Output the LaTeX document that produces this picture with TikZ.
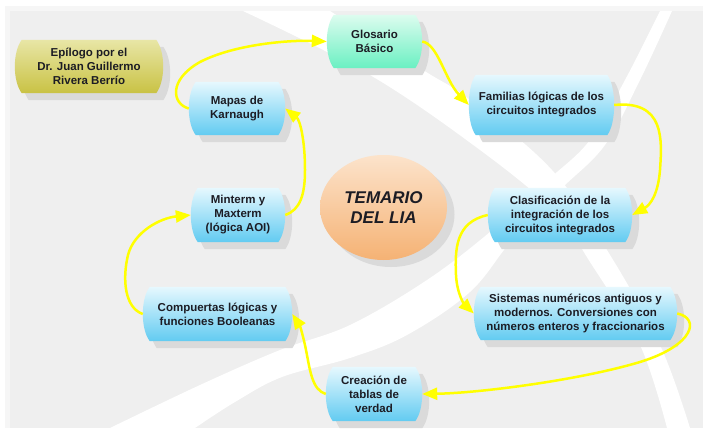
\documentclass[tikz,border=0pt]{standalone}
\usepackage{fontspec}
\setmainfont{Liberation Sans}
\usetikzlibrary{arrows.meta,calc,backgrounds,shapes.geometric}
\definecolor{panel}{HTML}{EFEFEF}
\definecolor{panelsh}{HTML}{F6F6F6}
\definecolor{shad}{HTML}{DADADA}
\definecolor{bluetop}{HTML}{E6F8FE}
\definecolor{bluebot}{HTML}{62CBF1}
\definecolor{greentop}{HTML}{DDFCEF}
\definecolor{greenbot}{HTML}{6AF0C2}
\definecolor{olivetop}{HTML}{E8E6A6}
\definecolor{olivebot}{HTML}{C9C244}
\definecolor{orangetop}{HTML}{FCE3CB}
\definecolor{orangebot}{HTML}{F5B274}
\definecolor{arrowy}{HTML}{FFFF00}
\definecolor{txt}{HTML}{1C1C24}
\newcommand\bxfill[3]{%
  \path[#3] ($(#1.north west)+(#2)+(7,0)$) -- ($(#1.north east)+(#2)+(-7,0)$)
    .. controls +(9.3,12) and +(9.3,-12) .. ($(#1.south east)+(#2)+(-7,0)$)
    -- ($(#1.south west)+(#2)+(7,0)$)
    .. controls +(-9.3,-12) and +(-9.3,12) .. ($(#1.north west)+(#2)+(7,0)$) -- cycle;}
\tikzset{
  box/.style={rectangle, inner sep=0pt, align=center, text=txt,
    font=\bfseries\fontsize{11.5}{14}\selectfont},
  conn/.style={draw=arrowy, line width=2.5pt, -{Triangle[length=15pt,width=12pt]}},
  bluefill/.style={top color=bluetop, bottom color=bluebot},
  shadowfill/.style={fill=shad}
}
\begin{document}
\begin{tikzpicture}[x=1pt, y=-1pt]
\useasboundingbox (0,0) rectangle (703,428);

% nodes
\node[box, minimum width=148, minimum height=53] (epi) at (89,66.5) {Epílogo por el\\Dr. Juan Guillermo\\Rivera Berrío};
\node[box, minimum width=96, minimum height=53] (kar) at (237,108.5) {Mapas de\\Karnaugh};
\node[box, minimum width=95, minimum height=53] (glo) at (374.5,41.5) {Glosario\\Básico};
\node[box, minimum width=145, minimum height=60] (fam) at (541.5,105) {Familias lógicas de los\\circuitos integrados};
\node[box, minimum width=144, minimum height=54] (cla) at (560,215) {Clasificación de la\\integración de los\\circuitos integrados};
\node[box, minimum width=203, minimum height=53] (sis) at (575.5,313.5) {Sistemas numéricos antiguos y\\modernos. Conversiones con\\números enteros y fraccionarios};
\node[box, minimum width=96, minimum height=54] (cre) at (374,394) {Creación de\\tablas de\\verdad};
\node[box, minimum width=149, minimum height=54] (com) at (217.5,314) {Compuertas lógicas y\\funciones Booleanas};
\node[box, minimum width=94, minimum height=54] (min) at (238,215) {Minterm y\\Maxterm\\(lógica AOI)};
\node[ellipse, minimum width=127, minimum height=105, inner sep=0pt,
  top color=orangetop, bottom color=orangebot, align=center, text=txt,
  font=\bfseries\itshape\fontsize{17}{20}\selectfont] (ell) at (383.5,207.5) {TEMARIO\\DEL LIA};

\begin{scope}[on background layer]
  \fill[panelsh] (5,6) rectangle (703,428);
  \fill[panel] (10,11) rectangle (703,428);
  % white band A
  \fill[white] plot[smooth, tension=0.6] coordinates {(243,11) (370,75) (480,150) (555,212) (590,262) (640,345) (667,428)}
    -- plot[smooth, tension=0.6] coordinates {(690,428) (660,345) (607,250) (552,170) (470,100) (423,70) (330,11)} -- cycle;
  % white band B
  \fill[white] plot[smooth, tension=0.6] coordinates {(660,11) (625,80) (590,140) (548,180) (490,232) (427,280) (350,325) (280,350) (200,385) (110,428)}
    -- plot[smooth, tension=0.6] coordinates {(195,428) (235,402) (282,377) (350,358) (407,335) (470,292) (512,240) (560,190) (605,145) (640,80) (672,11)} -- cycle;
  % shadows
  \foreach \n in {epi,kar,glo,fam,cla,sis,cre,com,min}{\bxfill{\n}{7,7}{shadowfill}}
  \fill[shad] (391,214.5) ellipse [x radius=63.5, y radius=52.5];
  % fills
  \bxfill{epi}{0,0}{top color=olivetop, bottom color=olivebot}
  \bxfill{glo}{0,0}{top color=greentop, bottom color=greenbot}
  \foreach \n in {kar,fam,cla,sis,cre,com,min}{\bxfill{\n}{0,0}{bluefill}}
\end{scope}

% connectors
\draw[conn] (kar.west) .. controls (172,104) and (168,80) .. (200,62) .. controls (235,44) and (290,40) .. (glo.west);
\draw[conn] (glo.east) .. controls (438,44) and (445,80) .. (fam.west);
\draw[conn] (fam.east) .. controls (665,100) and (662,140) .. (660,170) .. controls (658,195) and (650,205) .. (cla.east);
\draw[conn] (cla.west) .. controls (455,222) and (455,250) .. (456,275) .. controls (457,295) and (465,305) .. (sis.west);
\draw[conn] (sis.east) .. controls (700,318) and (695,345) .. (640,362) .. controls (580,380) and (480,393) .. (cre.east);
\draw[conn] (cre.west) .. controls (312,390) and (310,370) .. (306,350) .. controls (303,335) and (300,326) .. (com.east);
\draw[conn] (com.west) .. controls (125,308) and (122,280) .. (128,255) .. controls (134,232) and (160,218) .. (min.west);
\draw[conn] (min.east) .. controls (300,210) and (305,195) .. (305,170) .. controls (305,140) and (300,120) .. (kar.east);
\end{tikzpicture}
\end{document}
